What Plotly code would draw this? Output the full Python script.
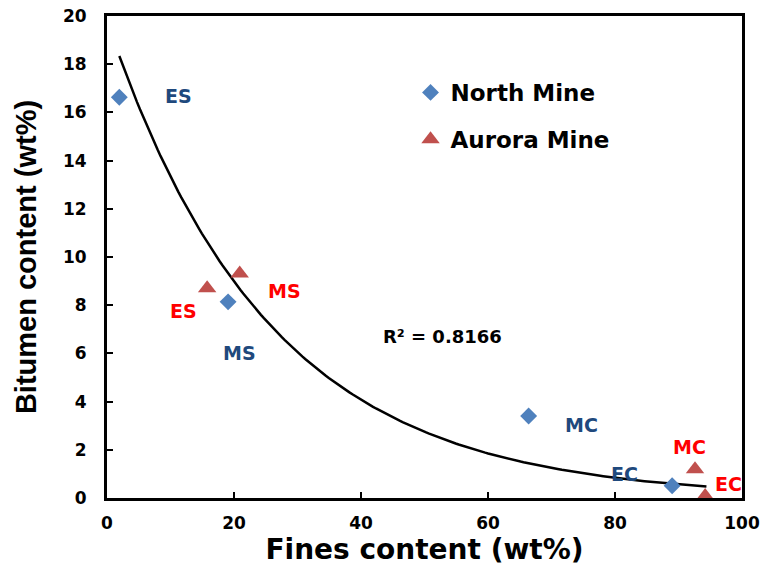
import numpy as np
import plotly.graph_objects as go

# Fines vs bitumen content for two oil-sands mines
north_fines = [1.94, 19.07, 66.4, 89.0]
north_bitumen = [16.63, 8.14, 3.40, 0.51]
north_labels = ["ES", "MS", "MC", "EC"]
north_label_x = [11.2, 20.9, 74.7, 81.5]
north_label_y = [16.67, 6.0, 3.02, 1.0]

aurora_fines = [15.77, 20.9, 92.6, 94.2]
aurora_bitumen = [8.70, 9.32, 1.19, 0.08]
aurora_labels = ["ES", "MS", "MC", "EC"]
aurora_label_x = [12.1, 28.0, 91.7, 97.8]
aurora_label_y = [7.76, 8.6, 2.11, 0.59]

# exponential trendline y = a * exp(b * x)
trend_a = 19.8
trend_b = -0.0395
trend_x_start, trend_x_end = 1.94, 94.4
r_squared = 0.8166

x_ticks = [0, 20, 40, 60, 80, 100]
y_ticks = [0, 2, 4, 6, 8, 10, 12, 14, 16, 18, 20]

BLUE = "#4F81BD"
RED = "#C0504D"
BLUE_TXT = "#1F497D"
RED_TXT = "#FF0000"
FONT = "DejaVu Sans"

fig = go.Figure()

tx = np.linspace(trend_x_start, trend_x_end, 200)
fig.add_trace(go.Scatter(
    x=tx, y=trend_a * np.exp(trend_b * tx), mode="lines",
    line=dict(color="black", width=2.5), showlegend=False, hoverinfo="skip",
))

fig.add_trace(go.Scatter(
    x=north_fines, y=north_bitumen, mode="markers", name="North Mine",
    legendgroup="north",
    marker=dict(symbol="diamond", size=13, color=BLUE),
))
fig.add_trace(go.Scatter(
    x=aurora_fines, y=aurora_bitumen, mode="markers", name="Aurora Mine",
    legendgroup="aurora",
    marker=dict(symbol="triangle-up", size=16, color=RED),
))

for lx, ly, t in zip(north_label_x, north_label_y, north_labels):
    fig.add_annotation(x=lx, y=ly, text=t, showarrow=False,
                       font=dict(family=FONT, size=19, color=BLUE_TXT, weight="bold"))
for lx, ly, t in zip(aurora_label_x, aurora_label_y, aurora_labels):
    fig.add_annotation(x=lx, y=ly, text=t, showarrow=False,
                       font=dict(family=FONT, size=19, color=RED_TXT, weight="bold"))

fig.add_annotation(x=52.8, y=6.69, text=f"R² = {r_squared}", showarrow=False,
                   font=dict(family=FONT, size=18, color="black", weight="bold"))

axis_common = dict(
    showline=True, linecolor="black", linewidth=3, mirror=True,
    ticks="inside", ticklen=6, tickwidth=2, tickcolor="black",
    showgrid=False, zeroline=False, automargin=False,
    tickfont=dict(family=FONT, size=17, color="black", weight="bold"),
)

fig.update_xaxes(
    range=[0, 100], tickvals=x_ticks, ticktext=[str(v) for v in x_ticks],
    title=dict(text="Fines content (wt%)", standoff=6,
               font=dict(family=FONT, size=28, color="black", weight="bold")),
    ticklabelstandoff=8,
    **axis_common,
)
fig.update_yaxes(
    range=[0, 20], tickvals=y_ticks, ticktext=[str(v) for v in y_ticks],
    title=dict(text="Bitumen content (wt%)", standoff=18,
               font=dict(family="Liberation Sans", size=29, color="black", weight="bold")),
    ticklabelstandoff=14,
    **axis_common,
)

fig.update_layout(
    width=762, height=566,
    margin=dict(l=107, r=20, t=16, b=68),
    plot_bgcolor="white", paper_bgcolor="white",
    legend=dict(
        x=0.478, y=0.886, xanchor="left", yanchor="top",
        traceorder="grouped", tracegroupgap=14,
        font=dict(family=FONT, size=23, color="black", weight="bold"),
        bgcolor="rgba(0,0,0,0)", itemwidth=30,
    ),
)

fig.write_html("out.html")
